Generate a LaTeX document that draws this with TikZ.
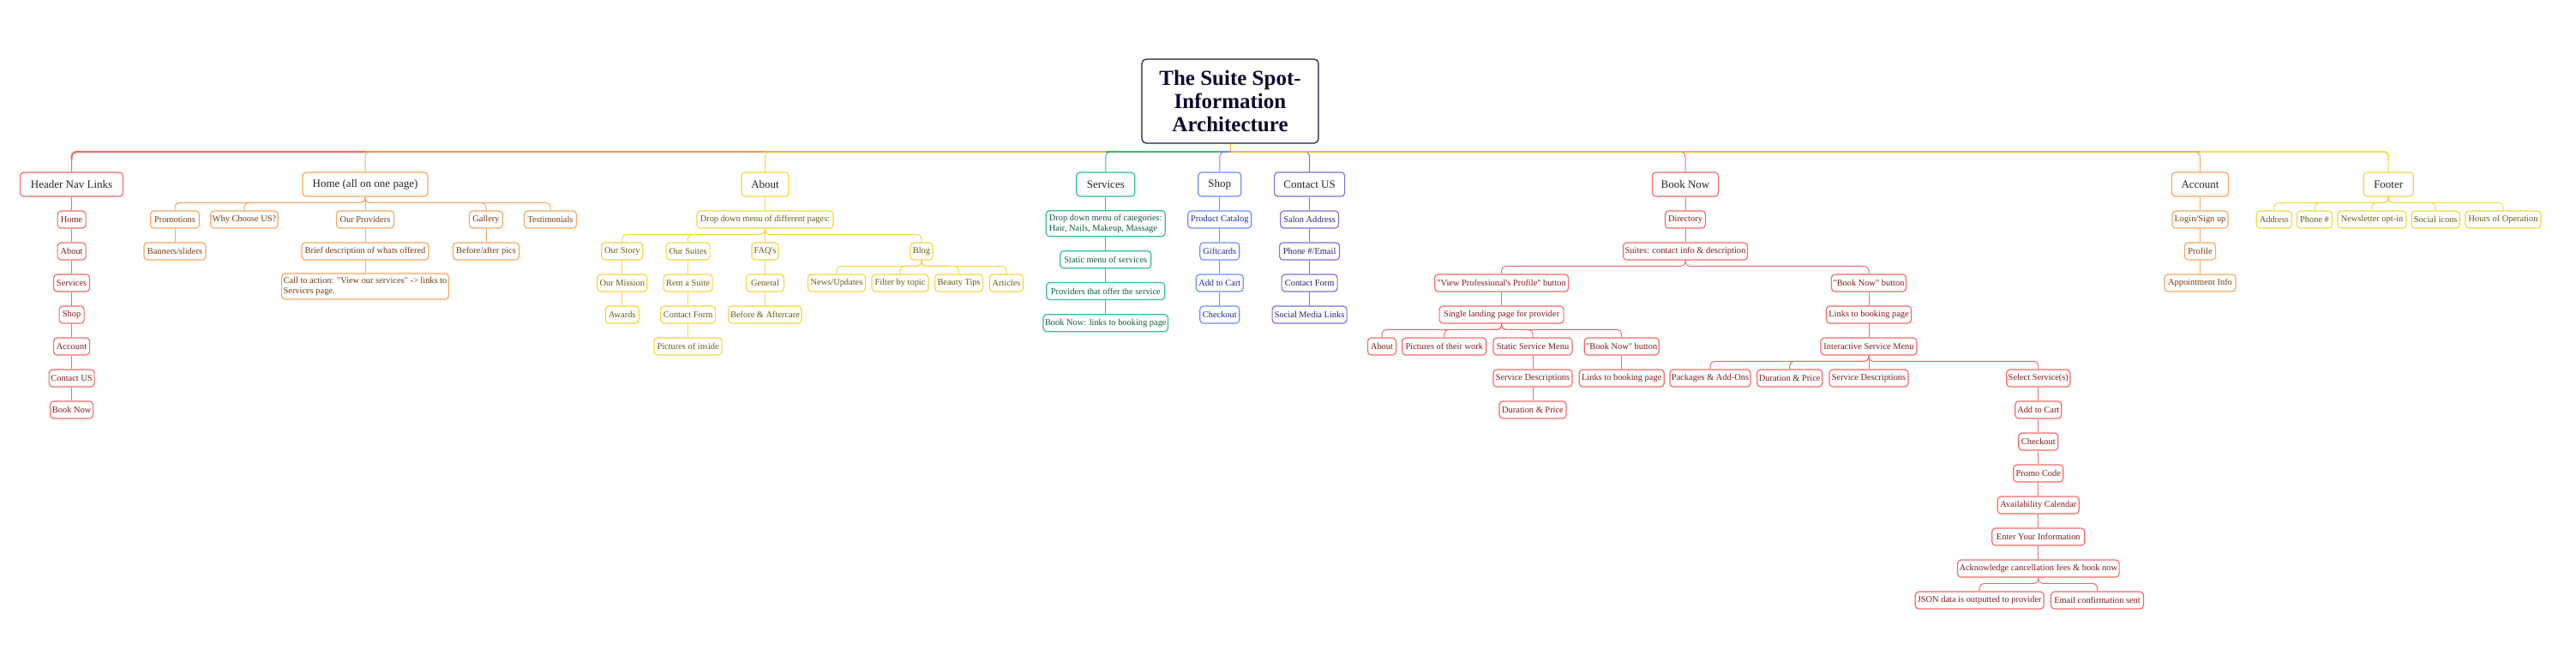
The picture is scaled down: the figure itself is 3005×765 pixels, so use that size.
\documentclass[tikz,border=0pt]{standalone}
\usepackage{fontspec}
\setmainfont{Liberation Serif}
\newfontfamily\lsf{Liberation Serif}
\usetikzlibrary{calc}
\definecolor{cR}{HTML}{F26B6B}
\definecolor{cRt}{HTML}{7B1A1A}
\definecolor{cO}{HTML}{F8A65E}
\definecolor{cOt}{HTML}{6E3B12}
\definecolor{cOb}{HTML}{F29A55}
\definecolor{cY}{HTML}{F6D53F}
\definecolor{cYt}{HTML}{6B5A12}
\definecolor{cGd}{HTML}{F0BA2C}
\definecolor{cLY}{HTML}{F7DF5A}
\definecolor{cGr}{HTML}{33C08E}
\definecolor{cGrt}{HTML}{0E5A3C}
\definecolor{cGrb}{HTML}{3CB86A}
\definecolor{cB}{HTML}{6E8CFF}
\definecolor{cBt}{HTML}{1D2C80}
\definecolor{cP}{HTML}{7474D6}
\definecolor{cPt}{HTML}{222266}
\definecolor{cT}{HTML}{1A1A3A}
\definecolor{cTt}{HTML}{0B0B2E}
\tikzset{
  box/.style={draw, rounded corners=4pt, line width=1.2pt, fill=white, inner xsep=2pt, inner ysep=1pt, minimum height=20pt, font=\lsf\fontsize{10.4}{11.6}\selectfont, align=center},
  lone/.style={minimum height=28pt, font=\lsf\fontsize{13}{15}\selectfont, text=black!85},
  rb/.style={box, draw=cR, text=cRt},
  ob/.style={box, draw=cO, text=cOt},
  yb/.style={box, draw=cY, text=cYt},
  gb/.style={box, draw=cGr, text=cGrt},
  bb/.style={box, draw=cB, text=cBt},
  pb/.style={box, draw=cP, text=cPt},
  conn/.style={line width=1pt},
  thick bar/.style={line width=2.2pt},
}
\newcommand\cvl[3]{\draw[conn,#1] (#2.south) -- (#3.north);}
\newcommand\cbr[3]{\draw[conn,#1,rounded corners=5pt] (#2.south) |- ($(#3.north)+(0,-9)$) -- (#3.north);}
\newcommand\ctop[2]{\draw[conn,#1,rounded corners=6pt] (1435,177) -| (#2.north);}
\begin{document}
\begin{tikzpicture}[x=1pt,y=-1pt]
\useasboundingbox (0,0) rectangle (3005,765);
\fill[white] (0,0) rectangle (3005,765);

% title
\node[draw=cT, line width=1.2pt, rounded corners=5pt, fill=white, minimum width=206pt, minimum height=98pt, align=center, text=cTt, font=\fontsize{25}{26.7}\selectfont\bfseries] (t) at (1435,118) {The Suite Spot-\\Information\\Architecture};

% level 1
\node[rb,lone,minimum width=120pt] (hd) at (83.6,215) {Header Nav Links};
\node[ob,lone,minimum width=146pt] (hm) at (426,215) {Home (all on one page)};
\node[yb,lone,minimum width=55pt] (ab) at (892.5,215) {About};
\node[gb,lone,minimum width=68pt] (sv) at (1289.8,215) {Services};
\node[bb,lone,minimum width=50pt] (sh) at (1422.8,215) {Shop};
\node[pb,lone,minimum width=82pt] (ct) at (1527.6,215) {Contact US};
\node[rb,lone,minimum width=77pt] (bn) at (1966,215) {Book Now};
\node[ob,lone,minimum width=66pt] (acc) at (2566.5,215) {Account};
\node[yb,lone,minimum width=58pt] (fo) at (2786.2,215) {Footer};

% header nav
\node[rb,minimum width=33pt] (h1) at (83.6,256) {Home};
\node[rb,minimum width=33pt] (h2) at (83.6,293) {About};
\node[rb,minimum width=42pt] (h3) at (83.6,330) {Services};
\node[rb,minimum width=29pt] (h4) at (83.6,367) {Shop};
\node[rb,minimum width=42pt] (h5) at (83.6,404) {Account};
\node[rb,minimum width=53pt] (h6) at (83.6,441) {Contact US};
\node[rb,minimum width=50pt] (h7) at (83.6,478) {Book Now};

% home
\node[ob,minimum width=57pt] (pr) at (204,256) {Promotions};
\node[ob,minimum width=77pt] (wc) at (285,256) {Why Choose US?};
\node[ob,minimum width=67pt] (op) at (426,256) {Our Providers};
\node[ob,minimum width=39pt] (ga) at (567,256) {Gallery};
\node[ob,minimum width=61pt] (te) at (642,256) {Testimonials};
\node[ob,minimum width=72pt] (bs) at (204,293) {Banners/sliders};
\node[ob,minimum width=148pt] (bd) at (426,293) {Brief description of whats offered};
\node[ob,minimum width=77pt] (ba) at (567,293) {Before/after pics};
\node[ob,minimum width=192pt,minimum height=30pt,align=left] (ca) at (426,334) {Call to action: "View our services" -> links to\\Services page.};

% about
\node[yb,minimum width=159pt] (dd) at (892.5,256) {Drop down menu of different pages:};
\node[yb,minimum width=48pt] (os) at (725.8,293) {Our Story};
\node[yb,minimum width=51pt] (su) at (802.6,293) {Our Suites};
\node[yb,minimum width=31pt] (fq) at (892.5,293) {FAQ's};
\node[yb,minimum width=26pt] (bl) at (1075,293) {Blog};
\node[yb,minimum width=58pt] (om) at (725.8,330) {Our Mission};
\node[yb,minimum width=57pt] (rs) at (802.6,330) {Rent a Suite};
\node[yb,minimum width=44pt] (ge) at (892.5,330) {General};
\node[yb,minimum width=67pt] (nu) at (976,330) {News/Updates};
\node[yb,minimum width=66pt] (ft) at (1050,330) {Filter by topic};
\node[yb,minimum width=56pt] (bt) at (1118.6,330) {Beauty Tips};
\node[yb,minimum width=39pt] (ar) at (1174,330) {Articles};
\node[yb,minimum width=39pt] (aw) at (725.8,367) {Awards};
\node[yb,minimum width=64pt] (cf) at (802.6,367) {Contact Form};
\node[yb,minimum width=85pt] (bf) at (892.5,367) {Before \& Aftercare};
\node[yb,minimum width=79pt] (pi) at (802.6,404) {Pictures of inside};

% services
\node[gb,minimum width=139pt,minimum height=30pt,align=left] (dc) at (1289.8,260.7) {Drop down menu of categories:\\Hair, Nails, Makeup, Massage};
\node[gb,minimum width=106pt] (sm) at (1289.8,302.8) {Static menu of services};
\node[gb,minimum width=138pt] (po) at (1289.8,339.5) {Providers that offer the service};
\node[gb,minimum width=144pt] (bk) at (1289.8,376.7) {Book Now: links to booking page};

% shop
\node[bb,minimum width=74pt] (pc) at (1422.8,256) {Product Catalog};
\node[bb,minimum width=46pt] (gc) at (1422.8,293) {Giftcards};
\node[bb,minimum width=55pt] (ac) at (1422.8,330) {Add to Cart};
\node[bb,minimum width=46pt] (co) at (1422.8,367) {Checkout};

% contact
\node[pb,minimum width=68pt] (sa) at (1527.6,256) {Salon Address};
\node[pb,minimum width=70pt] (pe) at (1527.6,293) {Phone \#/Email};
\node[pb,minimum width=65pt] (cfm) at (1527.6,330) {Contact Form};
\node[pb,minimum width=87pt] (sml) at (1527.6,367) {Social Media Links};

% book now
\node[rb,minimum width=47pt] (di) at (1966,256) {Directory};
\node[rb,minimum width=145pt] (sc) at (1966,293) {Suites: contact info \& description};
\node[rb,minimum width=156pt] (vp) at (1751.6,330) {"View Professional's Profile" button};
\node[rb,minimum width=87pt] (bbn) at (2180,330) {"Book Now" button};
\node[rb,minimum width=145pt] (sl) at (1751.6,367) {Single landing page for provider};
\node[rb,minimum width=99pt] (lb) at (2180,367) {Links to booking page};
\node[rb,minimum width=33pt] (a2) at (1612,404) {About};
\node[rb,minimum width=98pt] (pw) at (1684.8,404) {Pictures of their work};
\node[rb,minimum width=92pt] (ss) at (1788,404) {Static Service Menu};
\node[rb,minimum width=87pt] (b2) at (1891.7,404) {"Book Now" button};
\node[rb,minimum width=112pt] (im) at (2180,404) {Interactive Service Menu};
\node[rb,minimum width=92pt] (sd) at (1788,441) {Service Descriptions};
\node[rb,minimum width=99pt] (l2) at (1891.7,441) {Links to booking page};
\node[rb,minimum width=92pt] (pa) at (1995,441) {Packages \& Add-Ons};
\node[rb,minimum width=76pt] (dp) at (2087.7,441) {Duration \& Price};
\node[rb,minimum width=92pt] (sd2) at (2180,441) {Service Descriptions};
\node[rb,minimum width=74pt] (se) at (2377.8,441) {Select Service(s)};
\node[rb,minimum width=78pt] (dp2) at (1788,478) {Duration \& Price};
\node[rb,minimum width=54pt] (atc) at (2377.8,478) {Add to Cart};
\node[rb,minimum width=46pt] (ck) at (2377.8,515) {Checkout};
\node[rb,minimum width=58pt] (pm) at (2377.8,552) {Promo Code};
\node[rb,minimum width=95pt] (av) at (2377.8,589) {Availability Calendar};
\node[rb,minimum width=108pt] (en) at (2377.8,626) {Enter Your Information};
\node[rb,minimum width=187pt] (ak) at (2377.8,663) {Acknowledge cancellation fees \& book now};
\node[rb,minimum width=150pt] (js) at (2309.2,700) {JSON data is outputted to provider};
\node[rb,minimum width=108pt] (em) at (2446.5,700) {Email confirmation sent};

% account
\node[ob,minimum width=65pt] (li) at (2566.5,256) {Login/Sign up};
\node[ob,minimum width=36pt] (pf) at (2566.5,293) {Profile};
\node[ob,minimum width=83pt] (ai) at (2566.5,330) {Appointment Info};

% footer
\node[yb,minimum width=41pt] (ad) at (2652.8,256) {Address};
\node[yb,minimum width=41pt] (ph) at (2700,256) {Phone \#};
\node[yb,minimum width=80pt] (nl) at (2767,256) {Newsletter opt-in};
\node[yb,minimum width=56pt] (si) at (2841.2,256) {Social icons};
\node[yb,minimum width=88pt] (ho) at (2920,256) {Hours of Operation};

% ---- connectors ----
\draw[conn,cGd] (t.south) -- (1435,177);
\ctop{cR}{hd}
\ctop{cO}{hm}
\ctop{cY}{ab}
\ctop{cGr}{sv}
\ctop{cB}{sh}
\ctop{cP}{ct}
\ctop{cR}{bn}
\ctop{cO}{acc}
\ctop{cY}{fo}
\draw[thick bar,cR,rounded corners=6pt] (426,177) -- (83.6,177) -- (83.6,186);
\draw[thick bar,cOb] (426,177) -- (892.5,177);
\draw[thick bar,cGd] (892.5,177) -- (1289.8,177);
\draw[thick bar,cGrb] (1289.8,177) -- (1422.8,177);
\draw[thick bar,cB] (1422.8,177) -- (1435,177);
\draw[thick bar,cGd] (1435,177) -- (2566.5,177);
\draw[thick bar,cLY,rounded corners=6pt] (2566.5,177) -- (2786.2,177) -- (2786.2,186);

% header nav chain
\cvl{cR}{hd}{h1}\cvl{cR}{h1}{h2}\cvl{cR}{h2}{h3}\cvl{cR}{h3}{h4}
\cvl{cR}{h4}{h5}\cvl{cR}{h5}{h6}\cvl{cR}{h6}{h7}

% home
\cbr{cO}{hm}{pr}\cbr{cO}{hm}{wc}\cvl{cO}{hm}{op}\cbr{cO}{hm}{ga}\cbr{cO}{hm}{te}
\cvl{cO}{pr}{bs}\cvl{cO}{op}{bd}\cvl{cO}{bd}{ca}\cvl{cO}{ga}{ba}

% about
\cvl{cY}{ab}{dd}
\cbr{cY}{dd}{os}\cbr{cY}{dd}{su}\cvl{cY}{dd}{fq}\cbr{cY}{dd}{bl}
\cvl{cY}{os}{om}\cvl{cY}{om}{aw}
\cvl{cY}{su}{rs}\cvl{cY}{rs}{cf}\cvl{cY}{cf}{pi}
\cvl{cY}{fq}{ge}\cvl{cY}{ge}{bf}
\cbr{cY}{bl}{nu}\cbr{cY}{bl}{ft}\cbr{cY}{bl}{bt}\cbr{cY}{bl}{ar}

% services
\cvl{cGr}{sv}{dc}\cvl{cGr}{dc}{sm}\cvl{cGr}{sm}{po}\cvl{cGr}{po}{bk}
% shop
\cvl{cB}{sh}{pc}\cvl{cB}{pc}{gc}\cvl{cB}{gc}{ac}\cvl{cB}{ac}{co}
% contact
\cvl{cP}{ct}{sa}\cvl{cP}{sa}{pe}\cvl{cP}{pe}{cfm}\cvl{cP}{cfm}{sml}

% book now
\cvl{cR}{bn}{di}\cvl{cR}{di}{sc}
\cbr{cR}{sc}{vp}\cbr{cR}{sc}{bbn}
\cvl{cR}{vp}{sl}
\cbr{cR}{sl}{a2}\cbr{cR}{sl}{pw}\cbr{cR}{sl}{ss}\cbr{cR}{sl}{b2}
\cvl{cR}{ss}{sd}\cvl{cR}{sd}{dp2}\cvl{cR}{b2}{l2}
\cvl{cR}{bbn}{lb}\cvl{cR}{lb}{im}
\cbr{cR}{im}{pa}\cbr{cR}{im}{dp}\cvl{cR}{im}{sd2}\cbr{cR}{im}{se}
\cvl{cR}{se}{atc}\cvl{cR}{atc}{ck}\cvl{cR}{ck}{pm}\cvl{cR}{pm}{av}
\cvl{cR}{av}{en}\cvl{cR}{en}{ak}
\cbr{cR}{ak}{js}\cbr{cR}{ak}{em}

% account
\cvl{cO}{acc}{li}\cvl{cO}{li}{pf}\cvl{cO}{pf}{ai}
% footer
\cbr{cY}{fo}{ad}\cbr{cY}{fo}{ph}\cbr{cY}{fo}{nl}\cbr{cY}{fo}{si}\cbr{cY}{fo}{ho}
\end{tikzpicture}
\end{document}
